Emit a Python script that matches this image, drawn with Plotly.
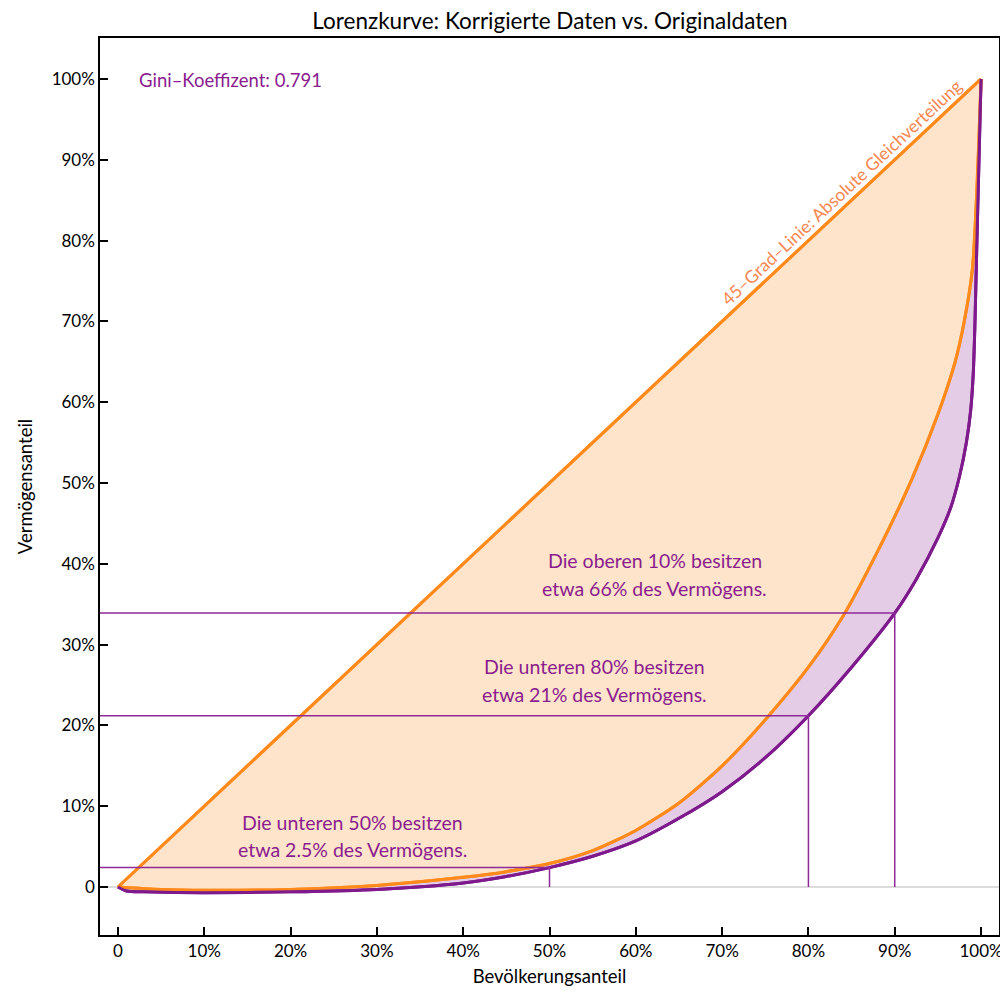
import plotly.graph_objects as go

# ---------------- data ----------------
equal_x = [0.0, 1.0]
equal_y = [0.0, 1.0]

pop_orig = [0.0, 0.05, 0.10, 0.20, 0.30, 0.40, 0.45, 0.50, 0.55, 0.60, 0.65, 0.70, 0.75, 0.80, 0.84, 0.88, 0.92, 0.95, 0.97, 0.98, 0.99, 1.0]
wealth_orig = [0.0, -0.003, -0.004, -0.003, 0.002, 0.012, 0.019, 0.029, 0.045, 0.070, 0.104, 0.150, 0.207, 0.272, 0.335, 0.415, 0.505, 0.585, 0.650, 0.697, 0.765, 1.0]

pop_corr = [0.0, 0.01, 0.03, 0.10, 0.20, 0.30, 0.40, 0.45, 0.50, 0.55, 0.60, 0.65, 0.70, 0.75, 0.80, 0.85, 0.90, 0.925, 0.95, 0.965, 0.975, 0.983, 0.988, 0.991, 0.993, 0.995, 1.0]
wealth_corr = [0.0, -0.005, -0.006, -0.007, -0.006, -0.003, 0.005, 0.013, 0.024, 0.038, 0.057, 0.085, 0.118, 0.160, 0.212, 0.272, 0.339, 0.381, 0.432, 0.470, 0.508, 0.550, 0.590, 0.636, 0.700, 0.790, 1.0]

# reference markers: (population share, wealth share)
ref_x = [0.50, 0.80, 0.90]
ref_y = [0.024, 0.212, 0.339]

gini_text = "Gini\u2013Koeffizent: 0.791"
notes = [
    ("Die oberen 10% besitzen", "etwa 66% des Vermögens.", 0.622, 0.404, 0.369),
    ("Die unteren 80% besitzen", "etwa 21% des Vermögens.", 0.552, 0.273, 0.238),
    ("Die unteren 50% besitzen", "etwa 2.5% des Vermögens.", 0.272, 0.080, 0.046),
]
diag_label = "45\u2013Grad\u2013Linie: Absolute Gleichverteilung"

tick_vals = [i / 10 for i in range(11)]
tick_text = ["0"] + [f"{i*10}%" for i in range(1, 11)]

# ---------------- styles ----------------
ORANGE = "#FF8A1C"
PURPLE = "#7E1A8C"
PEACH = "#FEE4CB"
LAVENDER = "#E4CBE6"
TXT_PURPLE = "#8A1C8E"
LABEL_ORANGE = "#F7874F"
FONT = "Lato, 'Open Sans', sans-serif"

XR = [-0.0208, 1.0208]
YR = [-0.0594, 1.0507]
SM = 0.7

fig = go.Figure()

# zero line
fig.add_trace(go.Scatter(x=XR, y=[0, 0], mode="lines",
                         line=dict(color="#D0D0D0", width=1.5),
                         hoverinfo="skip", showlegend=False))

# 45 degree line (base for the fill)
fig.add_trace(go.Scatter(x=equal_x, y=equal_y, mode="lines",
                         line=dict(color=ORANGE, width=3),
                         hoverinfo="skip", showlegend=False))
# original Lorenz curve, filled to diagonal
fig.add_trace(go.Scatter(x=pop_orig, y=wealth_orig, mode="lines",
                         line=dict(color=ORANGE, width=3, shape="spline", smoothing=SM),
                         fill="tonexty", fillcolor=PEACH,
                         hoverinfo="skip", showlegend=False))
# corrected Lorenz curve, filled to original
fig.add_trace(go.Scatter(x=pop_corr, y=wealth_corr, mode="lines",
                         line=dict(color=PURPLE, width=3, shape="spline", smoothing=SM),
                         fill="tonexty", fillcolor=LAVENDER,
                         hoverinfo="skip", showlegend=False))
# redraw lines on top of fills
fig.add_trace(go.Scatter(x=equal_x, y=equal_y, mode="lines",
                         line=dict(color=ORANGE, width=3),
                         hoverinfo="skip", showlegend=False))
fig.add_trace(go.Scatter(x=pop_orig, y=wealth_orig, mode="lines",
                         line=dict(color=ORANGE, width=3, shape="spline", smoothing=SM),
                         hoverinfo="skip", showlegend=False))
fig.add_trace(go.Scatter(x=pop_corr, y=wealth_corr, mode="lines",
                         line=dict(color=PURPLE, width=3, shape="spline", smoothing=SM),
                         hoverinfo="skip", showlegend=False))

# reference lines
for rx, ry in zip(ref_x, ref_y):
    fig.add_trace(go.Scatter(x=[XR[0], rx, rx], y=[ry, ry, 0], mode="lines",
                             line=dict(color="#8E2A98", width=1.5),
                             hoverinfo="skip", showlegend=False))

# annotations
fig.add_annotation(x=0.022, y=0.999, text=gini_text, showarrow=False,
                   xanchor="left", yanchor="middle",
                   font=dict(family=FONT, size=18.5, color=TXT_PURPLE))
for l1, l2, cx, y1, y2 in notes:
    fig.add_annotation(x=cx, y=y1, text=l1, showarrow=False, xanchor="center", yanchor="middle",
                       font=dict(family=FONT, size=19.5, color=TXT_PURPLE))
    fig.add_annotation(x=cx, y=y2, text=l2, showarrow=False, xanchor="center", yanchor="middle",
                       font=dict(family=FONT, size=19.5, color=TXT_PURPLE))
fig.add_annotation(x=0.838, y=0.860, text=diag_label, showarrow=False, textangle=-43,
                   xanchor="center", yanchor="middle",
                   font=dict(family=FONT, size=17.5, color=LABEL_ORANGE))

# the page adds an 8px body margin, so the figure is 8px smaller on each side
fig.update_layout(
    width=1000, height=989,
    margin=dict(l=92, r=5, t=30, b=62),
    paper_bgcolor="white", plot_bgcolor="white",
    font=dict(family=FONT, size=17, color="black"),
    title=dict(text="Lorenzkurve: Korrigierte Daten vs. Originaldaten",
               x=0.542, xanchor="center", y=0.987, yanchor="middle",
               font=dict(family=FONT, size=22.5, color="black")),
)
fig.update_xaxes(range=XR, tickvals=tick_vals, ticktext=tick_text,
                 showgrid=False, zeroline=False,
                 showline=True, linecolor="black", linewidth=1.5, mirror=True,
                 ticks="inside", ticklen=8, tickcolor="black", tickwidth=1.5,
                 tickfont=dict(size=17),
                 title=dict(text="Bevölkerungsanteil", font=dict(size=18.5), standoff=10))
fig.update_yaxes(range=YR, tickvals=tick_vals, ticktext=tick_text,
                 showgrid=False, zeroline=False,
                 showline=True, linecolor="black", linewidth=1.5, mirror=True,
                 ticks="inside", ticklen=8, tickcolor="black", tickwidth=1.5,
                 tickfont=dict(size=17),
                 title=dict(text="Vermögensanteil", font=dict(size=18.5), standoff=14))

fig.write_html("out.html")
